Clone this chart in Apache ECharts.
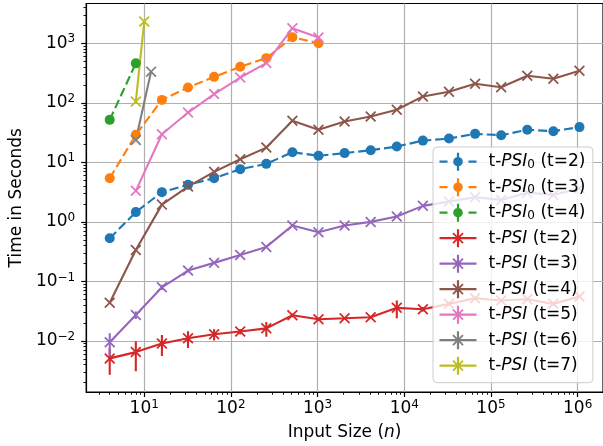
<!DOCTYPE html>
<html><head><meta charset="utf-8">
<script src="https://cdn.jsdelivr.net/npm/echarts@6/dist/echarts.min.js"></script>
<style>html,body{margin:0;padding:0;background:#fff}#c{width:603px;height:446px}</style>
</head><body><div id="c"></div>
<script>
// ---------------- data ----------------
const nPow2 = [4, 8, 16, 32, 64, 128, 256, 512, 1024, 2048, 4096, 8192, 16384, 32768, 65536, 131072, 262144, 524288, 1048576];
const nPsi0T3 = [4, 8, 16, 32, 64, 128, 256, 512, 1024];
const nPsi0T4 = [4, 8];
const nPsiT5 = [8, 16, 32, 64, 128, 256, 512, 1024];
const nPsiT6 = [8, 12];
const nPsiT7 = [8, 10];

const psi0T2 = [0.53, 1.46, 3.16, 4.19, 5.42, 7.69, 9.44, 14.8, 12.9, 14.3, 16.0, 18.4, 23.2, 25.1, 30.1, 28.6, 35.2, 33.4, 39.1];
const psi0T3 = [5.42, 29.0, 112, 181, 273, 403, 563, 1265, 1003];
const psi0T4 = [51.7, 460];
const psiT2 = [0.0051, 0.0065, 0.0091, 0.0111, 0.0130, 0.0144, 0.0163, 0.0270, 0.0232, 0.0241, 0.0251, 0.0360, 0.0342, 0.0420, 0.0523, 0.0477, 0.0503, 0.0420, 0.0556];
const psiT2Err = [0.0024, 0.0034, 0.0035, 0.0035, 0.0028, 0.0015, 0.0045, 0.0020, 0.0015, 0.0010, 0.0012, 0.0120, 0.0030, 0.0030, 0.0030, 0.0030, 0.0030, 0.0030, 0.0030];
const psiT3 = [0.0095, 0.0274, 0.0798, 0.152, 0.205, 0.279, 0.380, 0.867, 0.671, 0.867, 1.00, 1.23, 1.86, 2.19, 2.60, 2.34, 3.10, 2.84, 3.68];
const psiT3Err = [0.0040, 0.0040, 0.008, 0.010, 0.010, 0.010, 0.015, 0.03, 0.03, 0.03, 0.03, 0.04, 0.05, 0.05, 0.05, 0.05, 0.05, 0.05, 0.05];
const psiT4 = [0.044, 0.338, 1.95, 3.92, 6.92, 11.3, 17.7, 49.8, 35.2, 48.5, 58.9, 76.3, 128, 153, 209, 183, 284, 253, 345];
const psiT5 = [3.32, 29.7, 68.7, 140, 266, 465, 1791, 1245];
const psiT6 = [23.8, 334];
const psiT7 = [105, 2312];

const seriesNames = ['t-PSI0 (t=2)', 't-PSI0 (t=3)', 't-PSI0 (t=4)', 't-PSI (t=2)', 't-PSI (t=3)', 't-PSI (t=4)', 't-PSI (t=5)', 't-PSI (t=6)', 't-PSI (t=7)'];
const colors = ['#1f77b4', '#ff7f0e', '#2ca02c', '#d62728', '#9467bd', '#8c564b', '#e377c2', '#7f7f7f', '#bcbd22'];
const xTickExps = [1, 2, 3, 4, 5, 6];
const yTickExps = [-2, -1, 0, 1, 2, 3];
const axisTitleY = 'Time in Seconds';

// ---------------- helpers ----------------
const L = Math.log10;
const X_MIN = 0.331, X_MAX = 6.292, Y_MIN = -2.857, Y_MAX = 3.668;
const FONT = 'DejaVu Sans';

function rectP(x0, y0, x1, y1) { return `M${x0},${y0}L${x1},${y0}L${x1},${y1}L${x0},${y1}Z`; }
function segP(x1, y1, x2, y2, h) {
  const dx = x2 - x1, dy = y2 - y1, len = Math.hypot(dx, dy);
  const nx = -dy / len * h, ny = dx / len * h;
  let pts = [[x1 + nx, y1 + ny], [x2 + nx, y2 + ny], [x2 - nx, y2 - ny], [x1 - nx, y1 - ny]];
  let a = 0;
  for (let i = 0; i < 4; i++) { const p = pts[i], q = pts[(i + 1) % 4]; a += p[0] * q[1] - q[0] * p[1]; }
  if (a < 0) pts.reverse();
  return 'M' + pts.map(p => p[0].toFixed(3) + ',' + p[1].toFixed(3)).join('L') + 'Z';
}
function circP(cx, cy, r) { return `M${cx - r},${cy}A${r},${r},0,1,1,${cx + r},${cy}A${r},${r},0,1,1,${cx - r},${cy}Z`; }

const X_SYMBOL = 'path://' + segP(0, 0, 10, 10, 0.9) + segP(0, 10, 10, 0, 0.9);
const IW = 37, IH = 18, CX = 18.5, CY = 9;
const ICON_PSI0 = 'path://' + rectP(0, CY - 1.1, 8, CY + 1.1) + rectP(14.5, CY - 1.1, 22.5, CY + 1.1) + rectP(29, CY - 1.1, 37, CY + 1.1)
  + rectP(CX - 1.1, 0, CX + 1.1, IH) + circP(CX, CY, 4.8);
const ICON_PSI = 'path://' + rectP(0, CY - 1.1, 37, CY + 1.1) + rectP(CX - 1.1, 0, CX + 1.1, IH)
  + segP(CX - 5, CY - 5, CX + 5, CY + 5, 0.9) + segP(CX - 5, CY + 5, CX + 5, CY - 5, 0.9);

function minorTicks(k0, k1, lo, hi) {
  const out = [];
  for (let k = k0; k <= k1; k++) for (let m = 2; m <= 9; m++) { const v = L(m) + k; if (v > lo && v < hi) out.push(v); }
  return out;
}
function expLabel(v) {
  const k = Math.round(v);
  if (Math.abs(v - k) > 1e-6) return '';
  return '{b|10}{s|' + (k < 0 ? '\u2212' + (-k) : k) + '}';
}
const labelRich = {
  b: { fontFamily: FONT, fontSize: 17, lineHeight: 20, color: '#000' },
  s: { fontFamily: FONT, fontSize: 12, lineHeight: 13, verticalAlign: 'top', color: '#000' }
};

const groups = [
  { ns: nPow2, vals: psi0T2, psi0: true },
  { ns: nPsi0T3, vals: psi0T3, psi0: true },
  { ns: nPsi0T4, vals: psi0T4, psi0: true },
  { ns: nPow2, vals: psiT2, psi0: false, err: psiT2Err },
  { ns: nPow2, vals: psiT3, psi0: false, err: psiT3Err },
  { ns: nPow2, vals: psiT4, psi0: false },
  { ns: nPsiT5, vals: psiT5, psi0: false },
  { ns: nPsiT6, vals: psiT6, psi0: false },
  { ns: nPsiT7, vals: psiT7, psi0: false }
];

const series = [];
groups.forEach((g, gi) => {
  const c = colors[gi];
  series.push({
    name: seriesNames[gi], type: 'line', xAxisIndex: 0, yAxisIndex: 0,
    data: g.ns.map((n, i) => [L(n), L(g.vals[i])]),
    color: c,
    symbol: g.psi0 ? 'circle' : X_SYMBOL,
    symbolSize: g.psi0 ? 10 : 11,
    showAllSymbol: true,
    lineStyle: { color: c, width: 2.1, type: g.psi0 ? [9, 4] : 'solid' },
    itemStyle: { color: c, borderWidth: 0 },
    emphasis: { disabled: true },
    silent: true
  });
  if (g.err) {
    series.push({
      name: 'err' + gi, type: 'custom', xAxisIndex: 0, yAxisIndex: 0, silent: true,
      data: g.ns.map((n, i) => {
        const lo = Math.max(g.vals[i] - g.err[i], 1e-6);
        return [L(n), L(lo), L(g.vals[i] + g.err[i])];
      }),
      renderItem: (params, api) => {
        const p1 = api.coord([api.value(0), api.value(1)]);
        const p2 = api.coord([api.value(0), api.value(2)]);
        return { type: 'line', shape: { x1: p1[0], y1: p1[1], x2: p2[0], y2: p2[1] }, style: { stroke: c, lineWidth: 2.1 } };
      }
    });
  }
});

function legendFmt(name) {
  return name.replace(/^t-PSI0/, 't-{i|PSI}{sub|0}').replace(/^t-PSI /, 't-{i|PSI} ');
}

const option = {
  animation: false,
  backgroundColor: '#fff',
  grid: { left: 83.7, top: 3.5, width: 521.8, height: 388.5, show: true, borderColor: '#000', borderWidth: 1.2, backgroundColor: 'transparent' },
  legend: {
    data: seriesNames.map((nm, i) => ({ name: nm, icon: i < 3 ? ICON_PSI0 : ICON_PSI, itemStyle: { color: colors[i], borderWidth: 0 } })),
    orient: 'vertical', left: 433, top: 147,
    itemWidth: IW, itemHeight: IH, itemGap: 7.5,
    symbolKeepAspect: false,
    padding: [5.7, 7.5, 8, 6.5],
    backgroundColor: 'rgba(255,255,255,0.8)', borderColor: '#cccccc', borderWidth: 1, borderRadius: 4,
    selectedMode: false,
    formatter: legendFmt,
    textStyle: {
      fontFamily: FONT, fontSize: 17, color: '#000', lineHeight: 18, padding: [0, 0, 0, 7],
      rich: {
        i: { fontFamily: FONT, fontSize: 17, fontStyle: 'italic', lineHeight: 18, color: '#000' },
        sub: { fontFamily: FONT, fontSize: 12, lineHeight: 12, verticalAlign: 'bottom', color: '#000' }
      }
    }
  },
  xAxis: [
    {
      type: 'value', min: X_MIN, max: X_MAX, minInterval: 1, maxInterval: 1, position: 'bottom',
      name: 'Input Size ({i|n})', nameLocation: 'middle', nameGap: 32,
      nameTextStyle: { fontFamily: FONT, fontSize: 17, color: '#000', rich: { i: { fontFamily: FONT, fontSize: 17, fontStyle: 'italic', color: '#000' } } },
      axisLine: { show: true, onZero: false, lineStyle: { color: '#000', width: 1.2 } },
      axisTick: { show: true, inside: false, length: 5, customValues: xTickExps, lineStyle: { color: '#000', width: 1.2 } },
      axisLabel: { show: true, margin: 7, customValues: xTickExps, formatter: expLabel, rich: labelRich, hideOverlap: false },
      splitLine: { show: true, lineStyle: { color: '#b0b0b0', width: 1.2 } }
    },
    {
      type: 'value', min: X_MIN, max: X_MAX, position: 'bottom', offset: 0,
      axisLine: { show: false, onZero: false },
      axisTick: { show: true, inside: false, length: 2.8, customValues: minorTicks(0, 6, X_MIN, X_MAX), lineStyle: { color: '#000', width: 0.9 } },
      axisLabel: { show: false }, splitLine: { show: false }
    }
  ],
  yAxis: [
    {
      type: 'value', min: Y_MIN, max: Y_MAX, minInterval: 1, maxInterval: 1, position: 'left',
      name: axisTitleY, nameLocation: 'middle', nameGap: 57,
      nameTextStyle: { fontFamily: FONT, fontSize: 17, color: '#000' },
      axisLine: { show: true, onZero: false, lineStyle: { color: '#000', width: 1.2 } },
      axisTick: { show: true, inside: false, length: 5, customValues: yTickExps, lineStyle: { color: '#000', width: 1.2 } },
      axisLabel: { show: true, margin: 11, customValues: yTickExps, formatter: expLabel, rich: labelRich, hideOverlap: false },
      splitLine: { show: true, lineStyle: { color: '#b0b0b0', width: 1.2 } }
    },
    {
      type: 'value', min: Y_MIN, max: Y_MAX, position: 'left', offset: 0,
      axisLine: { show: false, onZero: false },
      axisTick: { show: true, inside: false, length: 2.8, customValues: minorTicks(-3, 3, Y_MIN, Y_MAX), lineStyle: { color: '#000', width: 0.9 } },
      axisLabel: { show: false }, splitLine: { show: false }
    }
  ],
  series: series
};

const chart = echarts.init(document.getElementById('c'), null, { renderer: 'canvas' });
chart.setOption(option);
</script>
</body></html>
